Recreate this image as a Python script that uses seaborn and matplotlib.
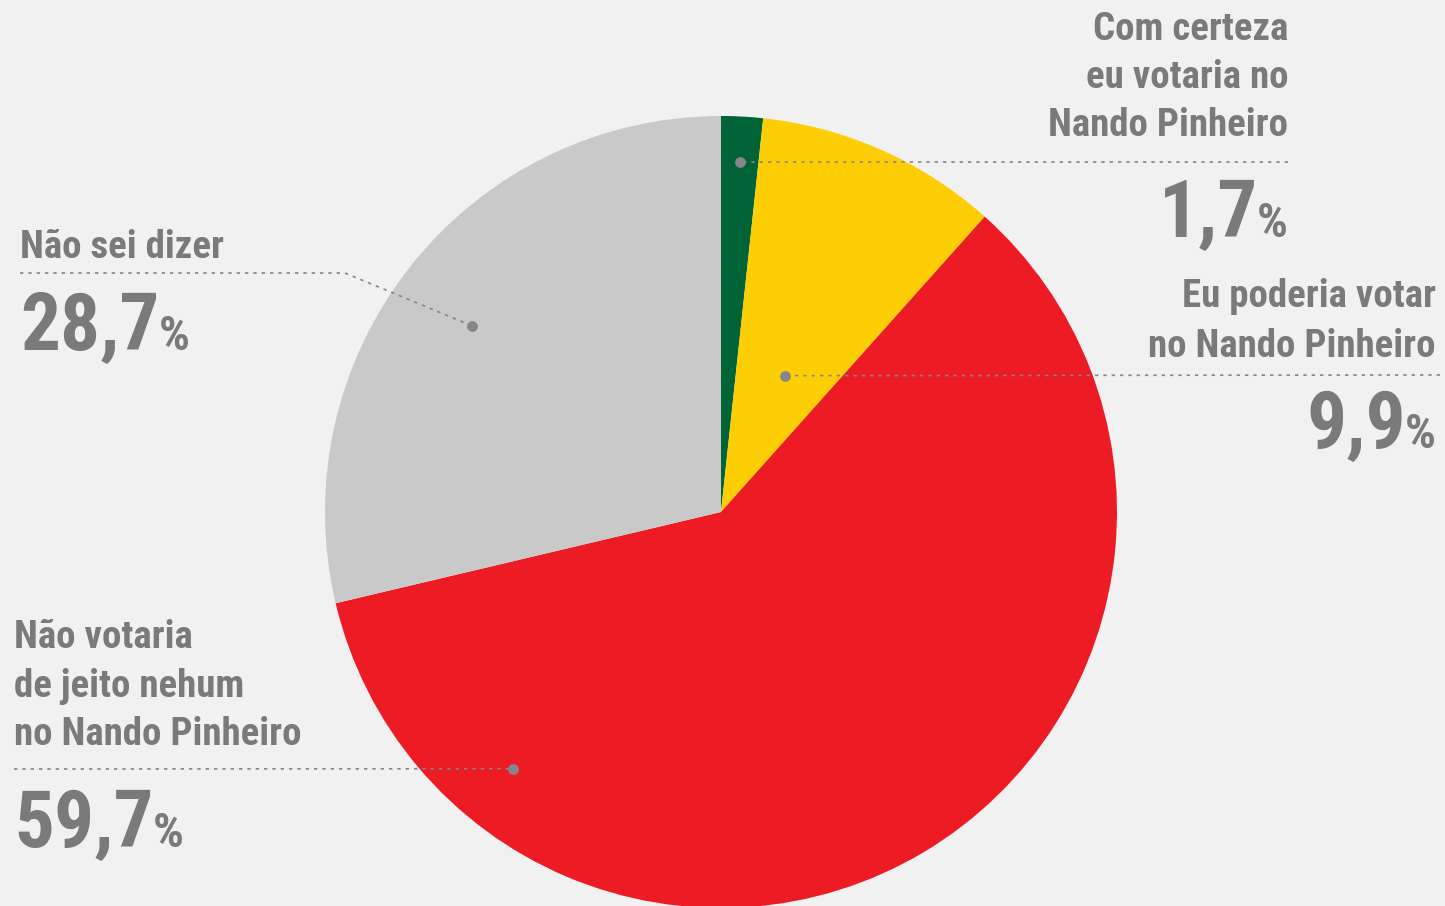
import matplotlib.pyplot as plt
import seaborn as sns
import numpy as np

# data
categories = ['Com certeza eu votaria no Nando Pinheiro',
              'Eu poderia votar no Nando Pinheiro',
              'Não votaria de jeito nehum no Nando Pinheiro',
              'Não sei dizer']
values = [1.7, 9.9, 59.7, 28.7]
value_labels = ['1,7', '9,9', '59,7', '28,7']
label_lines = [['Com certeza', 'eu votaria no', 'Nando Pinheiro'],
               ['Eu poderia votar', 'no Nando Pinheiro'],
               ['Não votaria', 'de jeito nehum', 'no Nando Pinheiro'],
               ['Não sei dizer']]
colors = ['#006437', '#FECE05', '#ED1C24', '#C9C9C9']

sns.set_theme(style='white')
plt.rcParams['font.family'] = ['Roboto Condensed', 'Noto Sans', 'DejaVu Sans']
plt.rcParams['font.stretch'] = 'extra-condensed'
plt.rcParams['font.weight'] = 'semibold'

BG = '#F1F1F1'
TXT = '#7A7A7A'
DOT = '#86868A'
W, H = 1445, 906

fig = plt.figure(figsize=(14.45, 9.06), dpi=100, facecolor=BG)
ax = fig.add_axes([0, 0, 1, 1])
ax.set_facecolor(BG)

cx, cy, R = 721, H - 512, 396
ax.pie(values, colors=colors, startangle=90, counterclock=False,
       center=(cx, cy), radius=R, wedgeprops=dict(linewidth=0))
ax.set_xlim(0, W)
ax.set_ylim(0, H)
ax.set_aspect('equal')
ax.axis('off')


def Y(py):
    return H - py


# anchor dot per slice: angle offset within slice (fraction) and radius fraction
cum = np.cumsum([0] + values[:-1])
dot_pos = [(0.5, 0.885), (0.53, 0.38), (0.825, 0.835), (0.485, 0.785)]
dots = []
for i, v in enumerate(values):
    frac_a, frac_r = dot_pos[i]
    ang = np.deg2rad(90 - (cum[i] + v * frac_a) * 3.6)
    dots.append((cx + R * frac_r * np.cos(ang), cy + R * frac_r * np.sin(ang)))

# label layout: (x, align, baselines of lines, leader y, line end x, number baseline)
layout = [
    (1288, 'right', [40, 88, 136], 162, 1288, 237),
    (1436, 'right', [307, 357], 375, 1440, 448),
    (14, 'left', [648, 697, 745], 769, 14, 847),
    (20, 'left', [258], 273, 20, 350),
]

renderer = fig.canvas.get_renderer()
for i in range(len(values)):
    x, ha, bases, ly, lx, nb = layout[i]
    for line, b in zip(label_lines[i], bases):
        ax.text(x, Y(b), line, ha=ha, va='baseline', fontsize=28,
                color=TXT)
    dx, dy = dots[i]
    if i == 3:
        xs = [lx, 345, dx]
        ys = [Y(ly), Y(ly), dy]
    else:
        xs = [lx, dx]
        ys = [Y(ly), dy]
    ax.plot(xs, ys, color=DOT, lw=1.2, ls=(0, (2, 3)), solid_capstyle='butt')
    ax.scatter([dx], [dy], s=60, color=DOT, zorder=5, linewidths=0)

    # big number + small percent sign
    if ha == 'right':
        pct = ax.text(x, Y(nb), '%', ha='right', va='baseline', fontsize=35,
                      color=TXT)
        bb = pct.get_window_extent(renderer=renderer)
        ax.text(bb.x0 + 1, Y(nb), value_labels[i], ha='right', va='baseline',
                fontsize=57, color=TXT, fontweight='bold')
    else:
        num = ax.text(x, Y(nb), value_labels[i], ha='left', va='baseline',
                      fontsize=57, color=TXT, fontweight='bold')
        bb = num.get_window_extent(renderer=renderer)
        ax.text(bb.x1 - 1, Y(nb), '%', ha='left', va='baseline', fontsize=35,
                color=TXT)

fig.savefig('out.png', dpi=100, facecolor=BG)
